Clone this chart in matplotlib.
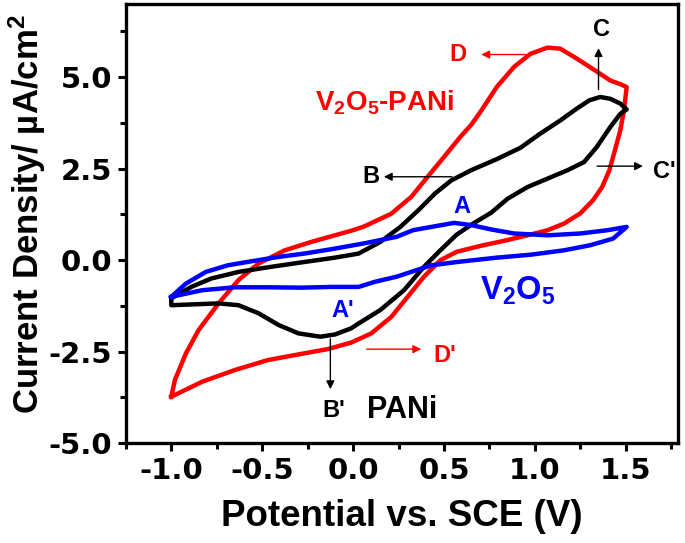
import numpy as np
import matplotlib
matplotlib.use("Agg")
import matplotlib.pyplot as plt

plt.rcParams['font.family'] = ['Liberation Sans', 'DejaVu Sans']
plt.rcParams['font.weight'] = 'bold'
plt.rcParams['axes.unicode_minus'] = False
plt.rcParams['mathtext.fontset'] = 'custom'
plt.rcParams['mathtext.rm'] = 'Liberation Sans:bold'
plt.rcParams['mathtext.bf'] = 'Liberation Sans:bold'
plt.rcParams['mathtext.default'] = 'bf'

# V2O5-PANi (rojo)
x_hib = [-1.0, -0.98, -0.92, -0.85, -0.74, -0.63, -0.52, -0.376, -0.23, -0.10, 0.0, 0.06, 0.21,
         0.32, 0.41, 0.50, 0.59, 0.65, 0.70, 0.79, 0.885, 0.976, 1.07, 1.14, 1.23, 1.33, 1.415,
         1.47, 1.505, 1.49, 1.47, 1.44, 1.41, 1.37, 1.32, 1.25, 1.16, 1.07, 0.96, 0.83, 0.70,
         0.57, 0.48, 0.39, 0.30, 0.21, 0.10, -0.01, -0.14, -0.285, -0.47, -0.65, -0.83, -1.0]
y_hib = [-3.73, -3.27, -2.55, -1.91, -1.18, -0.54, -0.09, 0.27, 0.50, 0.68, 0.82, 0.92, 1.27,
         1.73, 2.28, 2.82, 3.37, 3.70, 4.05, 4.73, 5.28, 5.64, 5.81, 5.78, 5.51, 5.19, 4.91,
         4.81, 4.73, 4.10, 3.55, 3.0, 2.46, 2.0, 1.64, 1.28, 1.0, 0.82, 0.68, 0.53, 0.39,
         0.23, 0.0, -0.45, -1.0, -1.55, -2.0, -2.25, -2.43, -2.56, -2.73, -3.0, -3.32, -3.73]

# PANi (negro)
x_pani = [-1.0, -0.89, -0.78, -0.63, -0.45, -0.27, -0.10, 0.03, 0.15, 0.26, 0.36, 0.45, 0.54,
          0.65, 0.79, 0.92, 1.03, 1.14, 1.23, 1.30, 1.36, 1.415, 1.47, 1.505,
          1.47, 1.415, 1.34, 1.27, 1.18, 1.07, 0.96, 0.85, 0.76, 0.66, 0.57, 0.48, 0.39, 0.28,
          0.15, 0.03, -0.01, -0.10, -0.18, -0.30, -0.41, -0.52, -0.63, -0.74, -1.0, -1.0]
y_pani = [-1.04, -0.73, -0.50, -0.32, -0.18, -0.05, 0.07, 0.18, 0.50, 0.91, 1.37, 1.82, 2.18,
          2.46, 2.76, 3.07, 3.46, 3.82, 4.14, 4.37, 4.46, 4.41, 4.28, 4.12,
          4.0, 3.64, 3.09, 2.68, 2.46, 2.23, 2.0, 1.68, 1.30, 1.0, 0.70, 0.27, -0.18, -0.82,
          -1.36, -1.73, -1.86, -2.03, -2.09, -2.0, -1.77, -1.45, -1.23, -1.18, -1.23, -1.04]

# V2O5 (azul)
x_v2o5 = [-1.0, -0.92, -0.81, -0.69, -0.56, -0.41, -0.27, -0.12, 0.06, 0.24, 0.33, 0.43, 0.555,
          0.65, 0.76, 0.885, 1.07, 1.25, 1.40, 1.505,
          1.43, 1.305, 1.16, 0.976, 0.79, 0.57, 0.43, 0.35, 0.24, 0.12, 0.03,
          -0.12, -0.285, -0.47, -0.65, -0.83, -1.0]
y_v2o5 = [-1.0, -0.64, -0.32, -0.14, -0.03, 0.09, 0.18, 0.30, 0.46, 0.64, 0.82, 0.91, 1.02,
          0.96, 0.84, 0.73, 0.68, 0.73, 0.82, 0.91,
          0.59, 0.41, 0.27, 0.15, 0.07, -0.05, -0.14, -0.27, -0.45, -0.59, -0.73,
          -0.73, -0.75, -0.74, -0.74, -0.82, -1.0]

xticks = [-1.0, -0.5, 0.0, 0.5, 1.0, 1.5]
yticks = [-5.0, -2.5, 0.0, 2.5, 5.0]

fig = plt.figure(figsize=(6.85, 5.43), dpi=100)
ax = fig.add_axes([0.1837, 0.1838, 0.8068, 0.8088])

ax.plot(x_hib, y_hib, color='#ff0000', lw=3.2, solid_joinstyle='round')
ax.plot(x_pani, y_pani, color='black', lw=3.2, solid_joinstyle='round')
ax.plot(x_v2o5, y_v2o5, color='#0000ff', lw=3.2, solid_joinstyle='round')

ax.set_xlim(-1.245, 1.79)
ax.set_ylim(-5, 7)
ax.set_xticks(xticks)
ax.set_yticks(yticks)
ax.set_xticklabels(['%.1f' % v for v in xticks])
ax.set_yticklabels(['%.1f' % v for v in yticks])
ax.set_xticks(np.arange(-1.25, 1.8, 0.25), minor=True)
ax.set_yticks(np.arange(-5, 7.1, 1.25), minor=True)
ax.tick_params(which='major', direction='out', length=6, width=2.2, labelsize=21, pad=4)
ax.tick_params(which='minor', direction='out', length=4, width=2.2)
for lab in ax.get_xticklabels() + ax.get_yticklabels():
    lab.set_family('DejaVu Sans')
    lab.set_weight('bold')
for s in ax.spines.values():
    s.set_linewidth(2.4)

fig.text(402 / 685, 1 - 517 / 543, 'Potential vs. SCE (V)', ha='center', va='center', fontsize=26.5)
fig.text(27 / 685, 1 - 214 / 543, r'Current Density/ µA/cm$^2$', rotation=90,
         ha='center', va='center', fontsize=25)

# etiquetas de curvas
ax.text(-0.208, 4.10, r'V$_2$O$_5$-PANi', color='#ff0000', fontsize=20, va='baseline')
ax.text(0.70, -1.09, r'V$_2$O$_5$', color='#0000ff', fontsize=23.5, va='baseline')
ax.text(0.077, -4.31, 'PANi', color='black', fontsize=22, va='baseline')

# picos y flechas
def flecha(x0, y0, x1, y1, c):
    ax.annotate('', xy=(x1, y1), xytext=(x0, y0),
                arrowprops=dict(arrowstyle='-|>', color=c, lw=1.0, mutation_scale=12))

ax.text(0.577, 5.43, 'D', color='#ff0000', fontsize=17, ha='center', va='baseline')
flecha(0.966, 5.62, 0.69, 5.62, '#ff0000')
ax.text(1.368, 6.12, 'C', color='black', fontsize=17, ha='center', va='baseline')
flecha(1.35, 4.59, 1.35, 5.87, 'black')
ax.text(0.10, 2.10, 'B', color='black', fontsize=17, ha='center', va='baseline')
flecha(0.56, 2.28, 0.154, 2.28, 'black')
ax.text(1.65, 2.24, "C'", color='black', fontsize=17, ha='left', va='baseline')
flecha(1.327, 2.57, 1.61, 2.57, 'black')
ax.text(0.598, 1.28, 'A', color='#0000ff', fontsize=17, ha='center', va='baseline')
ax.text(-0.12, -1.56, "A'", color='#0000ff', fontsize=17, ha='left', va='baseline')
ax.text(0.44, -2.79, "D'", color='#ff0000', fontsize=17, ha='left', va='baseline')
flecha(0.06, -2.43, 0.39, -2.43, '#ff0000')
ax.text(-0.17, -4.29, "B'", color='black', fontsize=17, ha='left', va='baseline')
flecha(-0.125, -2.07, -0.125, -3.60, 'black')

fig.savefig('out.png', dpi=100)
